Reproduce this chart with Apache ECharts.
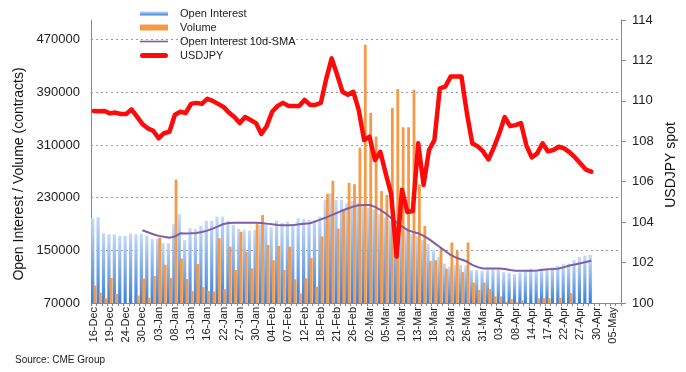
<!DOCTYPE html>
<html><head><meta charset="utf-8">
<script src="https://cdn.jsdelivr.net/npm/echarts@6/dist/echarts.min.js"></script>
<style>html,body{margin:0;padding:0;background:#fff}#c{width:686px;height:372px}</style>
</head><body><div id="c"></div>
<script>
const categories = [
'16-Dec','17-Dec','18-Dec','19-Dec','20-Dec','23-Dec','24-Dec','26-Dec','27-Dec','30-Dec','31-Dec',
'02-Jan','03-Jan','06-Jan','07-Jan','08-Jan','09-Jan','10-Jan','13-Jan','14-Jan','15-Jan','16-Jan','17-Jan','21-Jan','22-Jan','23-Jan','24-Jan','27-Jan','28-Jan','29-Jan','30-Jan','31-Jan',
'03-Feb','04-Feb','05-Feb','06-Feb','07-Feb','10-Feb','11-Feb','12-Feb','13-Feb','14-Feb','18-Feb','19-Feb','20-Feb','21-Feb','24-Feb','25-Feb','26-Feb','27-Feb','28-Feb',
'02-Mar','03-Mar','04-Mar','05-Mar','06-Mar','09-Mar','10-Mar','11-Mar','12-Mar','13-Mar','16-Mar','17-Mar','18-Mar','19-Mar','20-Mar','23-Mar','24-Mar','25-Mar','26-Mar','27-Mar','30-Mar','31-Mar',
'01-Apr','02-Apr','03-Apr','06-Apr','07-Apr','08-Apr','09-Apr','13-Apr','14-Apr','15-Apr','16-Apr','17-Apr','20-Apr','21-Apr','22-Apr','23-Apr','24-Apr','27-Apr','28-Apr','29-Apr','30-Apr',
'01-May','04-May','05-May','06-May'];

const openInterest = [
198800,200300,176000,174500,174500,171900,171900,176000,174500,174800,173000,
167300,168000,161000,161000,190000,205400,165800,183600,182100,187100,195000,195000,201300,201300,195200,188600,182800,181000,180000,181000,189000,
190100,185100,195200,192100,193700,190100,198800,197300,196200,196000,201300,226600,236800,226600,226600,221600,225000,222000,218000,
215000,212000,205000,200000,195000,190000,185000,180000,175000,172000,166000,160000,151000,140000,130000,125000,128000,128000,127000,120000,120000,119000,
121000,122000,121000,117000,116000,114000,116500,119000,122500,120000,122000,122500,124300,126500,129500,130000,135000,139500,142000,143000];

const volume = [
96500,85700,77100,108000,83700,60000,60000,60000,81100,107200,78100,
111000,169300,128000,108000,257500,137500,106500,88300,129300,94000,88300,87300,168400,91000,155600,120200,178200,148000,122500,190500,203600,
158000,135000,156700,120000,155600,106000,84500,107500,138500,94800,171000,236000,255600,183000,210000,252500,250500,306000,462400,
359000,323000,240000,234000,366500,395000,337000,337000,394000,250000,187000,134000,135000,154000,122000,162000,149000,117000,162000,101000,90000,101000,
91000,80000,80000,72000,76000,71000,73500,60000,60000,77000,77000,77000,60000,78000,60000,85000,60000,60000,60000,60000];

const oiSma10 = [
null,null,null,null,null,null,null,null,null,180500,177500,
174500,172000,170500,169300,171000,176000,175500,175800,176500,178000,180000,183000,186500,190000,191500,192100,192100,192100,192100,192100,191500,
190600,189500,188500,188100,188100,188500,189500,190500,191200,194000,197000,200000,203500,207000,210500,213500,216500,218500,219000,
219000,216000,211500,206000,199000,192500,186500,181000,178000,176000,172000,167000,161000,155000,149000,143000,139000,136000,133000,128000,124500,122500,
122500,122500,122500,121500,120000,119100,119100,119100,119100,119500,120500,121300,121800,122500,124500,127000,128500,130400,132300,134300];

const usdjpy = [
109.5,109.48,109.5,109.38,109.42,109.35,109.35,109.58,109.22,108.86,108.64,
108.52,108.15,108.4,108.47,109.3,109.46,109.4,109.85,109.9,109.85,110.1,110.0,109.85,109.7,109.42,109.2,108.9,109.2,109.05,108.9,108.36,
108.76,109.46,109.75,109.9,109.75,109.75,109.75,110.05,109.8,109.8,109.9,111.1,112.1,111.3,110.45,110.3,110.45,109.55,108.06,
108.23,107.07,107.48,106.4,105.4,102.3,105.6,104.5,104.55,107.9,105.84,107.57,108.06,110.62,110.7,111.2,111.2,111.2,109.4,107.9,107.75,107.5,
107.1,107.7,108.4,109.2,108.75,108.8,108.9,107.8,107.2,107.4,107.9,107.5,107.57,107.73,107.65,107.45,107.2,106.9,106.6,106.5];

const leftTicks = {min: 70000, max: 500000, interval: 80000};
const rightTicks = {min: 100, max: 114, interval: 2};

const FONT = "'Liberation Sans', Arial, sans-serif";
const chart = echarts.init(document.getElementById('c'), null, {renderer: 'canvas'});
const gridLine = '#9a9a9a';
chart.setOption({
  animation: false,
  textStyle: {fontFamily: FONT},
  grid: {left: 91, right: 65, top: 20, bottom: 69, containLabel: false},
  legend: {
    orient: 'vertical', left: 140, top: 8, padding: 0,
    itemWidth: 28, itemHeight: 6, itemGap: 3,
    textStyle: {fontSize: 11, lineHeight: 11, color: '#222', fontFamily: FONT, padding: [0, 0, 0, 7]},
    data: [
      {name: 'Open Interest', icon: 'path://M0,0H28V4H0Z'},
      {name: 'Volume', icon: 'rect'},
      {name: 'Open Interest 10d-SMA', icon: 'path://M0,0H28V1.6H0Z'},
      {name: 'USDJPY', icon: 'path://M2.5,0H25.5A2.5,2.5,0,0,1,25.5,5H2.5A2.5,2.5,0,0,1,2.5,0Z'}
    ]
  },
  xAxis: {
    type: 'category', data: categories, boundaryGap: true,
    axisLine: {lineStyle: {color: '#888', width: 1}},
    axisTick: {show: true, interval: 0, length: 3, lineStyle: {color: '#888'}},
    axisLabel: {interval: 2, rotate: 90, fontSize: 11, margin: 4, color: '#222', fontFamily: FONT},
    splitLine: {show: false}
  },
  yAxis: [
    {
      type: 'value', min: leftTicks.min, max: leftTicks.max, interval: leftTicks.interval,
      axisLine: {show: true, lineStyle: {color: '#888'}},
      axisTick: {show: false},
      axisLabel: {fontSize: 13, color: '#222', margin: 11, showMaxLabel: false, fontFamily: FONT,
        formatter: v => String(v)},
      splitLine: {show: true, showMinLine: true, showMaxLine: false,
        lineStyle: {color: [gridLine, gridLine, gridLine, gridLine, gridLine, gridLine, 'rgba(0,0,0,0)'], type: [2, 3], width: 1}}
    },
    {
      type: 'value', position: 'right', min: rightTicks.min, max: rightTicks.max, interval: rightTicks.interval,
      axisLine: {show: true, lineStyle: {color: '#888'}},
      axisTick: {show: true, length: 5, lineStyle: {color: '#888'}},
      axisLabel: {fontSize: 13, color: '#222', margin: 11, fontFamily: FONT},
      splitLine: {show: false}
    }
  ],
  graphic: [
    {type: 'text', x: 19, y: 174, rotation: Math.PI / 2,
     style: {text: 'Open Interest / Volume (contracts)', font: "14px 'Liberation Sans', Arial", fill: '#111', textAlign: 'center', textVerticalAlign: 'middle'}},
    {type: 'text', x: 671, y: 165, rotation: Math.PI / 2,
     style: {text: 'USDJPY spot', font: "14px 'Liberation Sans', Arial", fill: '#111', textAlign: 'center', textVerticalAlign: 'middle'}},
    {type: 'text', x: 15, y: 360,
     style: {text: 'Source: CME Group', font: "10px 'Liberation Sans', Arial", fill: '#222', textAlign: 'left', textVerticalAlign: 'middle'}}
  ],
  series: [
    {
      name: 'Open Interest', type: 'bar', data: openInterest, barWidth: 3.2, barGap: '-25%', clip: true,
      itemStyle: {color: new echarts.graphic.LinearGradient(0, 0, 0, 1, [
        {offset: 0, color: '#c6daf6'}, {offset: 1, color: '#3b7fd8'}])}
    },
    {
      name: 'Volume', type: 'bar', data: volume, barWidth: 2.8, clip: true,
      itemStyle: {color: '#f59a48'}
    },
    {
      name: 'Open Interest 10d-SMA', type: 'line', data: oiSma10, symbol: 'none', showSymbol: false, connectNulls: false,
      lineStyle: {color: '#7d5fa6', width: 2}, itemStyle: {color: '#7d5fa6'}
    },
    {
      name: 'USDJPY', type: 'line', yAxisIndex: 1, data: usdjpy, symbol: 'none', showSymbol: false,
      lineStyle: {color: '#ff0a0a', width: 4.5, join: 'round', cap: 'round'}, itemStyle: {color: '#ff0a0a'}
    }
  ]
});
</script></body></html>
